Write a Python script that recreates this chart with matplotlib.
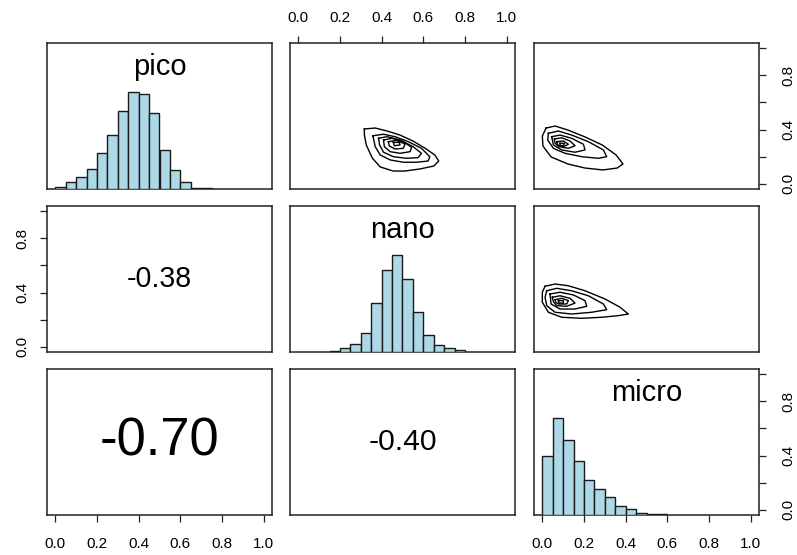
import matplotlib
matplotlib.use("Agg")
import matplotlib.pyplot as plt

plt.rcParams['font.family'] = ['Liberation Sans', 'DejaVu Sans']

var_names = ['pico', 'nano', 'micro']

# histogram bars (bin width 0.05), heights scaled so the tallest bar is 1
bin_width = 0.05
pico_start = 0.0
pico_heights = [0.017, 0.075, 0.12, 0.21, 0.37, 0.555, 0.80, 1.0, 0.98,
                0.78, 0.40, 0.195, 0.075, 0.015, 0.008]
nano_start = 0.15
nano_heights = [0.014, 0.038, 0.079, 0.20, 0.50, 0.84, 1.0, 0.75, 0.41,
                0.17, 0.07, 0.038, 0.017]
micro_start = 0.0
micro_heights = [0.61, 1.0, 0.77, 0.55, 0.36, 0.27, 0.185, 0.09, 0.058,
                 0.024, 0.014, 0.01]

# correlations shown in the lower panels
cor_pico_nano = -0.38
cor_pico_micro = -0.70
cor_nano_micro = -0.40

# density contour rings, outer to inner, as (x, y) points
# x = nano, y = pico
pico_nano_rings = [
    [(0.317, 0.404), (0.369, 0.411), (0.426, 0.389), (0.488, 0.359), (0.550, 0.315),
     (0.607, 0.263), (0.655, 0.212), (0.674, 0.167), (0.650, 0.130), (0.583, 0.108),
     (0.512, 0.093), (0.455, 0.093), (0.393, 0.123), (0.355, 0.189), (0.326, 0.286),
     (0.317, 0.359)],
    [(0.358, 0.354), (0.409, 0.365), (0.464, 0.347), (0.528, 0.310), (0.591, 0.261),
     (0.631, 0.199), (0.623, 0.167), (0.567, 0.158), (0.504, 0.158), (0.441, 0.175),
     (0.393, 0.212), (0.369, 0.273)],
    [(0.385, 0.335), (0.425, 0.347), (0.488, 0.322), (0.551, 0.273), (0.591, 0.224),
     (0.575, 0.192), (0.520, 0.187), (0.456, 0.199), (0.409, 0.232), (0.390, 0.286)],
    [(0.409, 0.322), (0.449, 0.335), (0.504, 0.310), (0.544, 0.268), (0.536, 0.236),
     (0.488, 0.224), (0.441, 0.236), (0.413, 0.273)],
    [(0.432, 0.310), (0.472, 0.320), (0.512, 0.293), (0.504, 0.261), (0.464, 0.256),
     (0.437, 0.278)],
    [(0.456, 0.305), (0.485, 0.305), (0.488, 0.286), (0.461, 0.280)],
]
# x = micro, y = pico
pico_micro_rings = [
    [(0.018, 0.411), (0.061, 0.426), (0.123, 0.396), (0.205, 0.345), (0.287, 0.286),
     (0.354, 0.212), (0.387, 0.145), (0.359, 0.115), (0.291, 0.101), (0.205, 0.115),
     (0.123, 0.145), (0.042, 0.197), (0.003, 0.278), (0.000, 0.352)],
    [(0.029, 0.372), (0.077, 0.389), (0.141, 0.359), (0.221, 0.310), (0.293, 0.249),
     (0.309, 0.199), (0.269, 0.187), (0.189, 0.199), (0.109, 0.224), (0.053, 0.261),
     (0.026, 0.322)],
    [(0.045, 0.347), (0.085, 0.359), (0.141, 0.335), (0.197, 0.291), (0.205, 0.249),
     (0.157, 0.232), (0.093, 0.249), (0.053, 0.286)],
    [(0.058, 0.330), (0.093, 0.339), (0.133, 0.315), (0.157, 0.280), (0.125, 0.261),
     (0.080, 0.273), (0.061, 0.298)],
    [(0.069, 0.310), (0.101, 0.315), (0.125, 0.291), (0.101, 0.273), (0.074, 0.286)],
    [(0.085, 0.298), (0.106, 0.298), (0.101, 0.280), (0.085, 0.283)],
]
# x = micro, y = nano
nano_micro_rings = [
    [(0.013, 0.446), (0.061, 0.463), (0.125, 0.450), (0.205, 0.413), (0.301, 0.352),
     (0.373, 0.291), (0.413, 0.241), (0.365, 0.229), (0.285, 0.217), (0.189, 0.209),
     (0.093, 0.217), (0.029, 0.254), (0.000, 0.328), (0.000, 0.402)],
    [(0.021, 0.413), (0.069, 0.431), (0.141, 0.413), (0.221, 0.376), (0.293, 0.315),
     (0.309, 0.273), (0.237, 0.254), (0.141, 0.241), (0.061, 0.254), (0.021, 0.303),
     (0.013, 0.365)],
    [(0.037, 0.389), (0.085, 0.402), (0.149, 0.382), (0.205, 0.340), (0.213, 0.298),
     (0.157, 0.278), (0.085, 0.278), (0.042, 0.315)],
    [(0.048, 0.365), (0.085, 0.376), (0.133, 0.357), (0.157, 0.322), (0.117, 0.298),
     (0.069, 0.303), (0.053, 0.332)],
    [(0.061, 0.347), (0.093, 0.357), (0.125, 0.340), (0.117, 0.315), (0.077, 0.315),
     (0.064, 0.328)],
    [(0.077, 0.340), (0.101, 0.340), (0.101, 0.322), (0.080, 0.322)],
]

tick_vals = [0.0, 0.2, 0.4, 0.6, 0.8, 1.0]
x_labels = ['0.0', '0.2', '0.4', '0.6', '0.8', '1.0']
y_labels = ['0.0', '', '0.4', '', '0.8', '']

W, H = 797, 555
fig = plt.figure(figsize=(W / 100, H / 100), dpi=100)

col_left = [47, 290, 534]
row_top = [43, 206, 369]
pw, ph = 225, 146

axes = {}
for r in range(3):
    for c in range(3):
        rect = [col_left[c] / W, 1 - (row_top[r] + ph) / H, pw / W, ph / H]
        ax = fig.add_axes(rect)
        ax.set_xlim(-0.04, 1.04)
        ax.set_ylim(-0.04, 1.04)
        ax.set_xticks([])
        ax.set_yticks([])
        for s in ax.spines.values():
            s.set_linewidth(1.1)
            s.set_color('#222222')
        ax.tick_params(direction='out', length=5, width=0.9, labelsize=11,
                       pad=8, color='#222222')
        axes[(r, c)] = ax

# diagonal: histograms on a 0..1.5 height scale, variable name near the top
hists = [(pico_start, pico_heights), (nano_start, nano_heights),
         (micro_start, micro_heights)]
for i, (start, heights) in enumerate(hists):
    ax = axes[(i, i)]
    hx = ax.twinx()
    hx.set_ylim(0, 1.5)
    hx.set_yticks([])
    for s in hx.spines.values():
        s.set_visible(False)
    lefts = [start + k * bin_width for k in range(len(heights))]
    hx.bar(lefts, heights, width=bin_width, align='edge', color='#ADD8E6',
           edgecolor='#1a1a1a', linewidth=1.0)
    ax.text(0.5, 0.833, var_names[i], transform=ax.transAxes, ha='center',
            va='center', fontsize=21)


def x_axis(ax, where):
    ax.set_xticks(tick_vals)
    ax.set_xticklabels(x_labels)
    if where == 'top':
        ax.xaxis.tick_top()
    else:
        ax.tick_params(axis='x', pad=11)


def y_axis(ax, where):
    ax.set_yticks(tick_vals)
    ax.set_yticklabels(y_labels, rotation=90, va='center')
    if where == 'right':
        ax.yaxis.tick_right()
        ax.tick_params(axis='y', pad=11)
    else:
        ax.yaxis.tick_left()


# outer axes alternate sides, as in a pairs plot
x_axis(axes[(0, 1)], 'top')
x_axis(axes[(2, 0)], 'bottom')
x_axis(axes[(2, 2)], 'bottom')
y_axis(axes[(1, 0)], 'left')
y_axis(axes[(0, 2)], 'right')
y_axis(axes[(2, 2)], 'right')

# upper panels: density contours
for (r, c), rings in [((0, 1), pico_nano_rings), ((0, 2), pico_micro_rings),
                      ((1, 2), nano_micro_rings)]:
    ax = axes[(r, c)]
    for ring in rings:
        xs = [p[0] for p in ring] + [ring[0][0]]
        ys = [p[1] for p in ring] + [ring[0][1]]
        ax.plot(xs, ys, color='black', linewidth=1.0)

# lower panels: correlation, text size grows with |r|
for (r, c), val in [((1, 0), cor_pico_nano), ((2, 0), cor_pico_micro),
                    ((2, 1), cor_nano_micro)]:
    ax = axes[(r, c)]
    ax.text(0.5, 0.5, '%.2f' % val, transform=ax.transAxes, ha='center',
            va='center', fontsize=54 * abs(val))

fig.savefig('out.png', dpi=100, facecolor='white')
